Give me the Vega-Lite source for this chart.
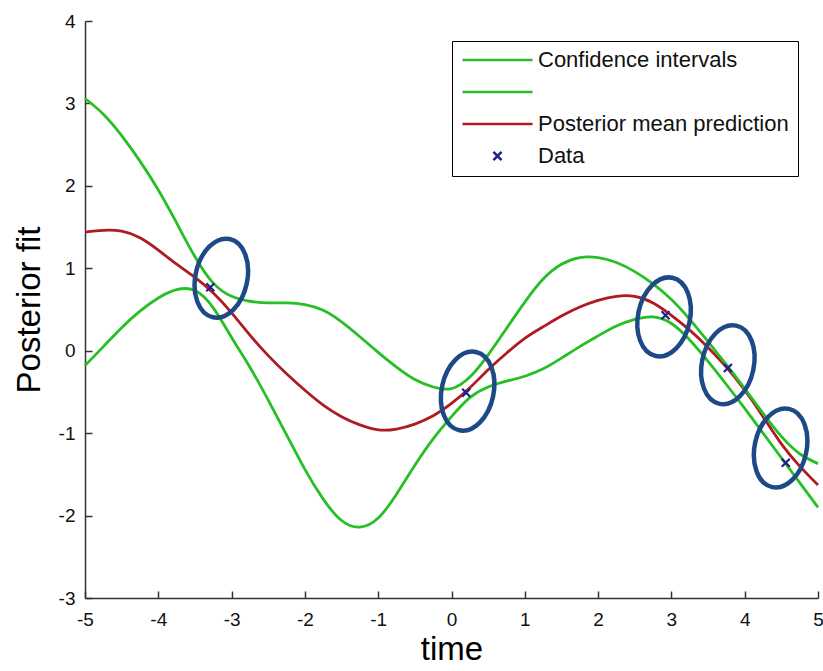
{
  "$schema": "https://vega.github.io/schema/vega-lite/v6.json",
  "width": 733,
  "height": 577,
  "autosize": {"type": "none"},
  "padding": {"left": 85, "top": 21, "right": 5, "bottom": 73},
  "background": "white",
  "config": {"view": {"stroke": null}, "font": "Liberation Sans"},
  "datasets": {
    "curves": [
      {"t": -5, "v": 1.44, "series": "Posterior mean prediction"},
      {"t": -4.75, "v": 1.46, "series": "Posterior mean prediction"},
      {"t": -4.5, "v": 1.45, "series": "Posterior mean prediction"},
      {"t": -4.25, "v": 1.37, "series": "Posterior mean prediction"},
      {"t": -4, "v": 1.22, "series": "Posterior mean prediction"},
      {"t": -3.75, "v": 1.05, "series": "Posterior mean prediction"},
      {"t": -3.5, "v": 0.89, "series": "Posterior mean prediction"},
      {"t": -3.25, "v": 0.7, "series": "Posterior mean prediction"},
      {"t": -3, "v": 0.46, "series": "Posterior mean prediction"},
      {"t": -2.75, "v": 0.19, "series": "Posterior mean prediction"},
      {"t": -2.5, "v": -0.06, "series": "Posterior mean prediction"},
      {"t": -2.25, "v": -0.28, "series": "Posterior mean prediction"},
      {"t": -2, "v": -0.48, "series": "Posterior mean prediction"},
      {"t": -1.75, "v": -0.66, "series": "Posterior mean prediction"},
      {"t": -1.5, "v": -0.8, "series": "Posterior mean prediction"},
      {"t": -1.25, "v": -0.9, "series": "Posterior mean prediction"},
      {"t": -1, "v": -0.96, "series": "Posterior mean prediction"},
      {"t": -0.75, "v": -0.95, "series": "Posterior mean prediction"},
      {"t": -0.5, "v": -0.89, "series": "Posterior mean prediction"},
      {"t": -0.25, "v": -0.79, "series": "Posterior mean prediction"},
      {"t": 0, "v": -0.64, "series": "Posterior mean prediction"},
      {"t": 0.25, "v": -0.45, "series": "Posterior mean prediction"},
      {"t": 0.5, "v": -0.23, "series": "Posterior mean prediction"},
      {"t": 0.75, "v": -0.03, "series": "Posterior mean prediction"},
      {"t": 1, "v": 0.15, "series": "Posterior mean prediction"},
      {"t": 1.25, "v": 0.29, "series": "Posterior mean prediction"},
      {"t": 1.5, "v": 0.42, "series": "Posterior mean prediction"},
      {"t": 1.75, "v": 0.53, "series": "Posterior mean prediction"},
      {"t": 2, "v": 0.61, "series": "Posterior mean prediction"},
      {"t": 2.25, "v": 0.66, "series": "Posterior mean prediction"},
      {"t": 2.5, "v": 0.66, "series": "Posterior mean prediction"},
      {"t": 2.75, "v": 0.58, "series": "Posterior mean prediction"},
      {"t": 3, "v": 0.43, "series": "Posterior mean prediction"},
      {"t": 3.25, "v": 0.25, "series": "Posterior mean prediction"},
      {"t": 3.5, "v": 0.04, "series": "Posterior mean prediction"},
      {"t": 3.75, "v": -0.2, "series": "Posterior mean prediction"},
      {"t": 4, "v": -0.48, "series": "Posterior mean prediction"},
      {"t": 4.25, "v": -0.8, "series": "Posterior mean prediction"},
      {"t": 4.5, "v": -1.13, "series": "Posterior mean prediction"},
      {"t": 4.75, "v": -1.4, "series": "Posterior mean prediction"},
      {"t": 5, "v": -1.63, "series": "Posterior mean prediction"},

      {"t": -5, "v": 3.06, "series": "Confidence intervals"},
      {"t": -4.75, "v": 2.87, "series": "Confidence intervals"},
      {"t": -4.5, "v": 2.61, "series": "Confidence intervals"},
      {"t": -4.25, "v": 2.3, "series": "Confidence intervals"},
      {"t": -4, "v": 1.95, "series": "Confidence intervals"},
      {"t": -3.75, "v": 1.55, "series": "Confidence intervals"},
      {"t": -3.5, "v": 1.14, "series": "Confidence intervals"},
      {"t": -3.25, "v": 0.82, "series": "Confidence intervals"},
      {"t": -3, "v": 0.66, "series": "Confidence intervals"},
      {"t": -2.75, "v": 0.6, "series": "Confidence intervals"},
      {"t": -2.5, "v": 0.58, "series": "Confidence intervals"},
      {"t": -2.25, "v": 0.58, "series": "Confidence intervals"},
      {"t": -2, "v": 0.56, "series": "Confidence intervals"},
      {"t": -1.75, "v": 0.49, "series": "Confidence intervals"},
      {"t": -1.5, "v": 0.35, "series": "Confidence intervals"},
      {"t": -1.25, "v": 0.17, "series": "Confidence intervals"},
      {"t": -1, "v": -0.02, "series": "Confidence intervals"},
      {"t": -0.75, "v": -0.2, "series": "Confidence intervals"},
      {"t": -0.5, "v": -0.35, "series": "Confidence intervals"},
      {"t": -0.25, "v": -0.44, "series": "Confidence intervals"},
      {"t": 0, "v": -0.46, "series": "Confidence intervals"},
      {"t": 0.25, "v": -0.32, "series": "Confidence intervals"},
      {"t": 0.5, "v": -0.05, "series": "Confidence intervals"},
      {"t": 0.75, "v": 0.27, "series": "Confidence intervals"},
      {"t": 1, "v": 0.59, "series": "Confidence intervals"},
      {"t": 1.25, "v": 0.87, "series": "Confidence intervals"},
      {"t": 1.5, "v": 1.05, "series": "Confidence intervals"},
      {"t": 1.75, "v": 1.13, "series": "Confidence intervals"},
      {"t": 2, "v": 1.13, "series": "Confidence intervals"},
      {"t": 2.25, "v": 1.07, "series": "Confidence intervals"},
      {"t": 2.5, "v": 0.96, "series": "Confidence intervals"},
      {"t": 2.75, "v": 0.81, "series": "Confidence intervals"},
      {"t": 3, "v": 0.62, "series": "Confidence intervals"},
      {"t": 3.25, "v": 0.38, "series": "Confidence intervals"},
      {"t": 3.5, "v": 0.11, "series": "Confidence intervals"},
      {"t": 3.75, "v": -0.17, "series": "Confidence intervals"},
      {"t": 4, "v": -0.46, "series": "Confidence intervals"},
      {"t": 4.25, "v": -0.76, "series": "Confidence intervals"},
      {"t": 4.5, "v": -1.04, "series": "Confidence intervals"},
      {"t": 4.75, "v": -1.25, "series": "Confidence intervals"},
      {"t": 5, "v": -1.37, "series": "Confidence intervals"},

      {"t": -5, "v": -0.18, "series": " "},
      {"t": -4.75, "v": 0.05, "series": " "},
      {"t": -4.5, "v": 0.28, "series": " "},
      {"t": -4.25, "v": 0.48, "series": " "},
      {"t": -4, "v": 0.64, "series": " "},
      {"t": -3.75, "v": 0.74, "series": " "},
      {"t": -3.5, "v": 0.73, "series": " "},
      {"t": -3.25, "v": 0.52, "series": " "},
      {"t": -3, "v": 0.16, "series": " "},
      {"t": -2.75, "v": -0.2, "series": " "},
      {"t": -2.5, "v": -0.6, "series": " "},
      {"t": -2.25, "v": -1.02, "series": " "},
      {"t": -2, "v": -1.44, "series": " "},
      {"t": -1.75, "v": -1.8, "series": " "},
      {"t": -1.5, "v": -2.06, "series": " "},
      {"t": -1.25, "v": -2.14, "series": " "},
      {"t": -1, "v": -2.03, "series": " "},
      {"t": -0.75, "v": -1.74, "series": " "},
      {"t": -0.5, "v": -1.39, "series": " "},
      {"t": -0.25, "v": -1.07, "series": " "},
      {"t": 0, "v": -0.8, "series": " "},
      {"t": 0.25, "v": -0.57, "series": " "},
      {"t": 0.5, "v": -0.44, "series": " "},
      {"t": 0.75, "v": -0.37, "series": " "},
      {"t": 1, "v": -0.31, "series": " "},
      {"t": 1.25, "v": -0.22, "series": " "},
      {"t": 1.5, "v": -0.09, "series": " "},
      {"t": 1.75, "v": 0.05, "series": " "},
      {"t": 2, "v": 0.18, "series": " "},
      {"t": 2.25, "v": 0.3, "series": " "},
      {"t": 2.5, "v": 0.38, "series": " "},
      {"t": 2.75, "v": 0.41, "series": " "},
      {"t": 3, "v": 0.33, "series": " "},
      {"t": 3.25, "v": 0.13, "series": " "},
      {"t": 3.5, "v": -0.13, "series": " "},
      {"t": 3.75, "v": -0.41, "series": " "},
      {"t": 4, "v": -0.7, "series": " "},
      {"t": 4.25, "v": -1.0, "series": " "},
      {"t": 4.5, "v": -1.3, "series": " "},
      {"t": 4.75, "v": -1.6, "series": " "},
      {"t": 5, "v": -1.9, "series": " "}
    ],
    "points": [
      {"t": -3.29, "v": 0.77, "series": "Data"},
      {"t": 0.2, "v": -0.51, "series": "Data"},
      {"t": 2.92, "v": 0.43, "series": "Data"},
      {"t": 3.77, "v": -0.21, "series": "Data"},
      {"t": 4.56, "v": -1.36, "series": "Data"}
    ],
    "circles": [
      {"t": -3.14, "v": 0.88},
      {"t": 0.22, "v": -0.49},
      {"t": 2.9, "v": 0.41},
      {"t": 3.77, "v": -0.17},
      {"t": 4.49, "v": -1.18}
    ]
  },
  "layer": [
    {
      "data": {"name": "curves"},
      "mark": {"type": "line", "interpolate": "natural", "strokeWidth": 2.8},
      "encoding": {
        "x": {
          "field": "t", "type": "quantitative",
          "scale": {"domain": [-5, 5], "nice": false, "zero": false},
          "axis": {
            "title": "time", "values": [-5, -4, -3, -2, -1, 0, 1, 2, 3, 4, 5],
            "labelExpr": "'' + datum.value",
            "grid": false, "tickSize": -7, "labelPadding": 19, "labelFlush": false,
            "labelFontSize": 19, "labelColor": "#111", "labelFont": "Liberation Sans",
            "titleFontSize": 33, "titleFontWeight": "normal", "titleColor": "#000",
            "titleFont": "Liberation Sans", "titlePadding": 4,
            "domainColor": "#333", "domainWidth": 1.5, "tickColor": "#333", "tickWidth": 1.5
          }
        },
        "y": {
          "field": "v", "type": "quantitative",
          "scale": {"domain": [-3, 4], "nice": false, "zero": false},
          "axis": {
            "title": "Posterior fit", "values": [-3, -2, -1, 0, 1, 2, 3, 4],
            "labelExpr": "'' + datum.value",
            "grid": false, "tickSize": -7, "labelPadding": 17, "labelFlush": false,
            "labelFontSize": 19, "labelColor": "#111", "labelFont": "Liberation Sans",
            "titleFontSize": 33, "titleFontWeight": "normal", "titleColor": "#000",
            "titleFont": "Liberation Sans", "titlePadding": 12,
            "domainColor": "#333", "domainWidth": 1.5, "tickColor": "#333", "tickWidth": 1.5
          }
        },
        "color": {
          "field": "series", "type": "nominal",
          "scale": {
            "domain": ["Confidence intervals", " ", "Posterior mean prediction", "Data"],
            "range": ["#26c026", "#26c026", "#b01a22", "#1f1f8c"]
          },
          "legend": {
            "title": null, "orient": "top-right", "offset": 20,
            "strokeColor": "#000", "fillColor": "#fff", "padding": 9, "cornerRadius": 0,
            "symbolSize": 4900, "symbolStrokeWidth": 2.5, "symbolType": "stroke",
            "clipHeight": 20,
            "labelFontSize": 22, "labelFont": "Liberation Sans", "labelColor": "#111",
            "labelOffset": 4, "rowPadding": 10, "labelLimit": 400,
            "encode": {
              "symbols": {
                "update": {
                  "shape": {"signal": "datum.value === 'Data' ? 'M-0.115,-0.115L0.115,0.115M-0.115,0.115L0.115,-0.115' : 'stroke'"}
                }
              }
            }
          }
        }
      }
    },
    {
      "data": {"name": "points"},
      "mark": {"type": "point", "shape": "M-1,-1L1,1M-1,1L1,-1", "filled": false, "size": 64, "strokeWidth": 2.2, "opacity": 1},
      "encoding": {
        "x": {"field": "t", "type": "quantitative"},
        "y": {"field": "v", "type": "quantitative"},
        "color": {"field": "series", "type": "nominal"}
      }
    },
    {
      "data": {"name": "circles"},
      "mark": {
        "type": "point",
        "shape": "M0,-1 C0.359,-1 0.65,-0.552 0.65,0 C0.65,0.552 0.359,1 0,1 C-0.359,1 -0.65,0.552 -0.65,0 C-0.65,-0.552 -0.359,-1 0,-1 Z",
        "filled": false, "size": 6400, "strokeWidth": 4.5, "color": "#1d4a86", "opacity": 1, "angle": 12
      },
      "encoding": {
        "x": {"field": "t", "type": "quantitative"},
        "y": {"field": "v", "type": "quantitative"}
      }
    }
  ]
}
